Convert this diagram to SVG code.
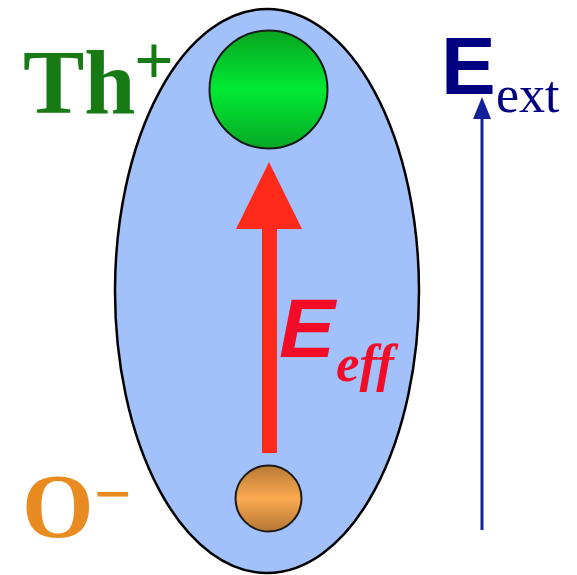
<svg xmlns="http://www.w3.org/2000/svg" width="577" height="575" viewBox="0 0 577 575">
<defs>
<linearGradient id="gGreen" x1="0" y1="0" x2="0" y2="1">
<stop offset="0" stop-color="#08a420"/>
<stop offset="0.5" stop-color="#00ea34"/>
<stop offset="1" stop-color="#08a824"/>
</linearGradient>
<linearGradient id="gOrange" x1="0" y1="0" x2="0" y2="1">
<stop offset="0" stop-color="#b87a32"/>
<stop offset="0.5" stop-color="#fcaa52"/>
<stop offset="1" stop-color="#b47632"/>
</linearGradient>
<style>
.serifB{font-family:"Liberation Serif","Times New Roman",serif;font-weight:bold}
.atom{stroke:#1a1a1a;stroke-width:2}
</style>
</defs>
<g id="molecule">
<ellipse cx="267" cy="291" rx="152" ry="282" fill="#a2c0fa" stroke="#000" stroke-width="2.5"/>
</g>
<g id="thorium">
<circle class="atom" cx="268.5" cy="89.5" r="59" fill="url(#gGreen)"/>
<text class="serifB" x="23" y="113" font-size="92" fill="#187a14">Th<tspan font-size="70" x="134" y="84">+</tspan></text>
</g>
<g id="oxygen">
<circle class="atom" cx="268.5" cy="498.5" r="33" fill="url(#gOrange)"/>
<text class="serifB" x="22" y="537" font-size="92" fill="#e88c22">O<tspan font-size="66" x="94" y="516">−</tspan></text>
</g>
<g id="connectors">
<g id="Eeff-arrow">
<rect x="262" y="227" width="15" height="226" fill="#ff2a1a"/>
<polygon points="269,162 236,229 302,229" fill="#ff2a1a"/>
</g>
<g id="Eext-arrow">
<line x1="482" y1="530" x2="482" y2="116" stroke="#12209a" stroke-width="3"/>
<polygon points="482,97 473,119 491,119" fill="#12209a"/>
</g>
</g>
<g id="Eeff-label">
<text x="279" y="357" font-family="Liberation Sans, Arial, sans-serif" font-weight="bold" font-style="italic" font-size="84" fill="#f20c28">E</text>
<text x="336" y="381" font-family="Liberation Serif, Times New Roman, serif" font-weight="bold" font-style="italic" font-size="53" fill="#f20c28">eff</text>
</g>
<g id="Eext-label">
<text x="441" y="94" font-family="Liberation Sans, Arial, sans-serif" font-weight="bold" font-size="82" fill="#000080">E</text>
<text x="496" y="112" font-family="Liberation Serif, Times New Roman, serif" font-size="52" fill="#000080">ext</text>
</g>
</svg>
